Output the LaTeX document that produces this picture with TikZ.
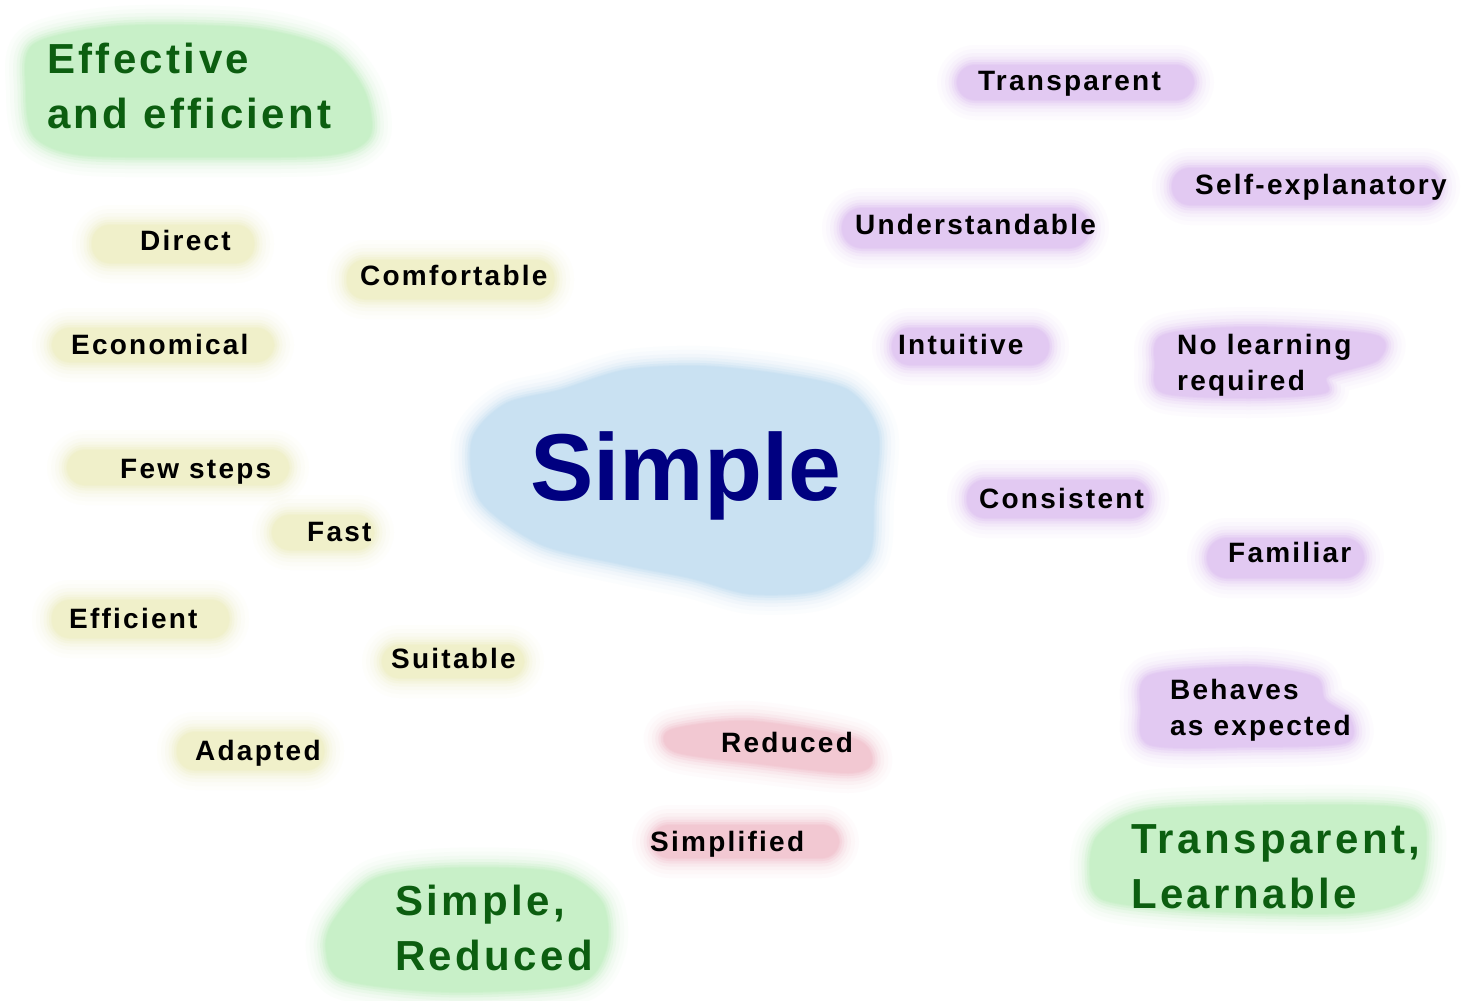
\documentclass[tikz,border=0pt]{standalone}
\usepackage{fontspec}
\usepackage{tikz}

\newfontfamily\wordfont{Liberation Sans}[LetterSpace=8]
\newfontfamily\titlefont{Liberation Sans}

\definecolor{leafgreen}{HTML}{C8F0C8}
\definecolor{headgreen}{HTML}{0C5E10}
\definecolor{sandyellow}{HTML}{F0F0CA}
\definecolor{lilac}{HTML}{E2C9F2}
\definecolor{rosepink}{HTML}{F2C8D2}
\definecolor{skyblue}{HTML}{C9E1F2}
\definecolor{navytext}{HTML}{000080}

% soft coloured patch: a few faint wide strokes round a solid fill
\newcommand{\softblob}[2]{%
  \foreach \w/\o in {40/.06,32/.08,24/.12,17/.18,11/.28,6/.4,2/.5}{
    \draw[#1, line width=\w, opacity=\o, line join=round] #2;
  }
  \fill[#1] #2;
}

\begin{document}
\begin{tikzpicture}[x=1pt, y=-1pt,
                    word/.style={anchor=base west, inner sep=0pt, text=black,
                                 font=\wordfont\bfseries\fontsize{28}{36}\selectfont},
                    twoline/.style={word, align=left},
                    heading/.style={anchor=base west, inner sep=0pt, text=headgreen, align=left,
                                    font=\wordfont\bfseries\fontsize{42}{55}\selectfont},
                    centre/.style={anchor=base west, inner sep=0pt, text=navytext,
                                   font=\titlefont\bfseries\fontsize{95}{95}\selectfont}]
    \useasboundingbox (0,0) rectangle (1462,1001);
    \fill[white] (0,0) rectangle (1462,1001);

    % Patches behind the words
    \softblob{skyblue}{plot[smooth cycle] coordinates {(472,440) (505,404) (560,390) (625,370) (700,366) (780,374) (848,390) (878,432) (874,500) (868,558) (820,590) (750,594) (690,578) (620,564) (540,544) (480,500)}}
    \softblob{leafgreen}{plot[smooth cycle] coordinates {(34,44) (120,26) (250,28) (328,48) (364,90) (370,136) (330,155) (200,157) (80,155) (34,136) (26,90)}}
    \softblob{leafgreen}{plot[smooth cycle] coordinates {(334,920) (374,879) (450,868) (556,872) (602,902) (606,950) (576,984) (450,992) (344,980) (326,950)}}
    \softblob{leafgreen}{plot[smooth cycle] coordinates {(1099,834) (1150,810) (1300,805) (1412,810) (1426,850) (1412,896) (1350,913) (1200,911) (1104,900) (1090,870)}}

    % yellow group
    \softblob{sandyellow}{[rounded corners=18] (92,225) rectangle (254,263)}
    \softblob{sandyellow}{[rounded corners=18] (347,260) rectangle (554,299)}
    \softblob{sandyellow}{[rounded corners=18] (52,328) rectangle (274,362)}
    \softblob{sandyellow}{[rounded corners=18] (67,450) rectangle (289,485)}
    \softblob{sandyellow}{[rounded corners=18] (272,515) rectangle (374,550)}
    \softblob{sandyellow}{[rounded corners=18] (52,600) rectangle (229,638)}
    \softblob{sandyellow}{[rounded corners=17] (382,645) rectangle (524,678)}
    \softblob{sandyellow}{[rounded corners=18] (177,732) rectangle (324,770)}

    % purple group
    \softblob{lilac}{[rounded corners=18] (957,65) rectangle (1194,100)}
    \softblob{lilac}{[rounded corners=18] (1172,168) rectangle (1440,205)}
    \softblob{lilac}{[rounded corners=20] (842,208) rectangle (1089,248)}
    \softblob{lilac}{[rounded corners=18] (892,328) rectangle (1049,365)}
    \softblob{lilac}{plot[smooth cycle] coordinates {(1163,335) (1250,327) (1375,335) (1378,360) (1328,376) (1325,393) (1250,398) (1163,393) (1155,365)}}
    \softblob{lilac}{[rounded corners=18] (967,480) rectangle (1149,518)}
    \softblob{lilac}{[rounded corners=20] (1207,538) rectangle (1364,578)}
    \softblob{lilac}{plot[smooth cycle] coordinates {(1150,675) (1250,667) (1315,677) (1325,700) (1350,718) (1345,743) (1250,747) (1150,745) (1141,710)}}

    % pink group
    \softblob{rosepink}{plot[smooth cycle] coordinates {(670,730) (750,721) (855,739) (872,763) (848,773) (760,764) (675,752)}}
    \softblob{rosepink}{[rounded corners=17] (652,825) rectangle (839,858)}

    % Centre word
    \node[centre] (simple) at (530,500) {Simple};

    % Group headings
    \node[heading] (effective) at (47,128) {Effective\\and efficient};
    \node[heading] (reducedhead) at (395,970) {Simple,\\Reduced};
    \node[heading] (learnable) at (1131,908) {Transparent,\\Learnable};

    % Left words
    \node[word] (direct) at (140,250) {Direct};
    \node[word] (comfortable) at (360,285) {Comfortable};
    \node[word] (economical) at (71,354) {Economical};
    \node[word] (fewsteps) at (120,478) {Few steps};
    \node[word] (fast) at (307,541) {Fast};
    \node[word] (efficient) at (69,628) {Efficient};
    \node[word] (suitable) at (391,668) {Suitable};
    \node[word] (adapted) at (195,760) {Adapted};

    % Right words
    \node[word] (transparent) at (978,90) {Transparent};
    \node[word] (selfexpl) at (1195,194) {Self-explanatory};
    \node[word] (understandable) at (855,234) {Understandable};
    \node[word] (intuitive) at (898,354) {Intuitive};
    \node[twoline] (nolearning) at (1177,390) {No learning\\required};
    \node[word] (consistent) at (979,508) {Consistent};
    \node[word] (familiar) at (1228,562) {Familiar};
    \node[twoline] (behaves) at (1170,735) {Behaves\\as expected};

    % Bottom words
    \node[word] (reduced) at (721,752) {Reduced};
    \node[word] (simplified) at (650,851) {Simplified};
\end{tikzpicture}
\end{document}
